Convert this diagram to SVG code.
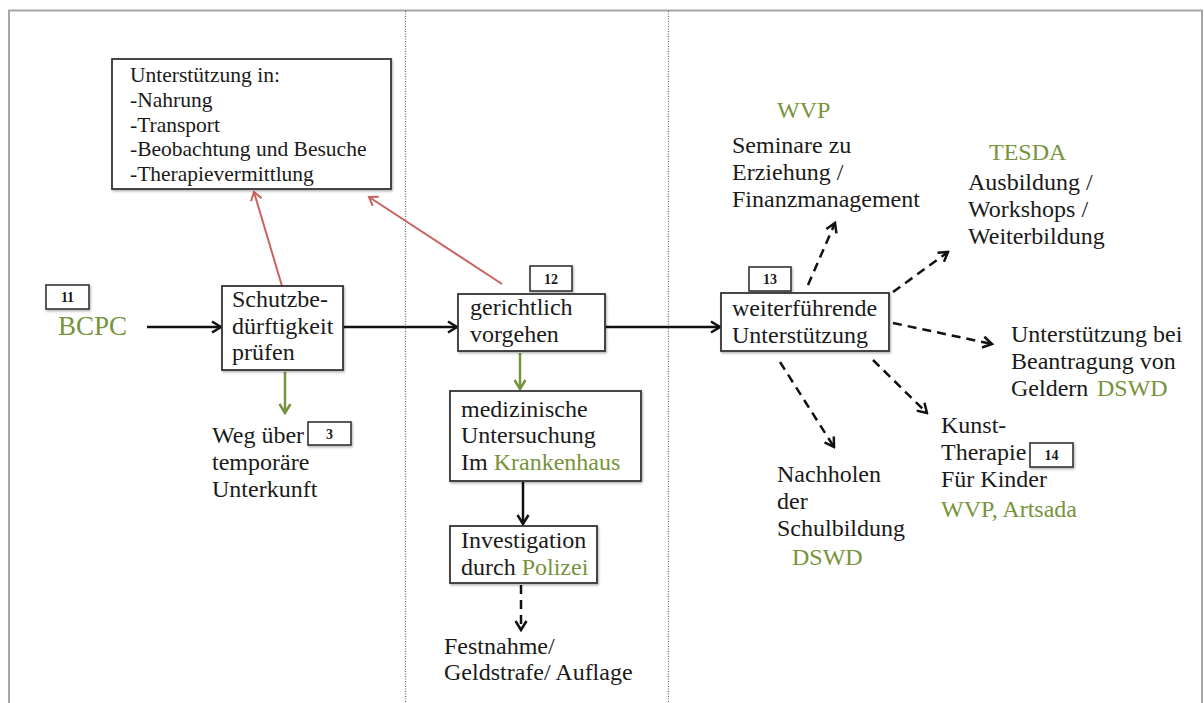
<svg xmlns="http://www.w3.org/2000/svg" width="1204" height="703" viewBox="0 0 1204 703">
<style>
text{font-family:"Liberation Serif","Times New Roman",serif;fill:#1a1a1a;font-size:24px}
.g{fill:#77933c}
.sm{font-size:21.5px}
.num{font-size:14px;font-weight:bold;text-anchor:middle}
.box{fill:#fff;stroke:#333;stroke-width:1.8;filter:url(#sh)}
.nb{fill:#fff;stroke:#333;stroke-width:1.6;filter:url(#sh)}
.c{fill:none;stroke:#111;stroke-width:2.5}
.d{stroke-dasharray:9 6}
.r{fill:none;stroke:#c9625c;stroke-width:2}
.gr{fill:none;stroke:#77933c;stroke-width:2.5}
.div{stroke:#666;stroke-width:1.2;stroke-dasharray:1 1.5}
</style>
<defs>
<filter id="sh" x="-10%" y="-10%" width="130%" height="130%"><feDropShadow dx="1" dy="1.5" stdDeviation="1" flood-color="#000" flood-opacity="0.3"/></filter>
<marker id="ab" markerUnits="userSpaceOnUse" markerWidth="14" markerHeight="14" viewBox="0 0 14 14" refX="12" refY="7" orient="auto"><path d="M3,1.5 L12,7 L3,12.5" fill="none" stroke="#111" stroke-width="2.5" stroke-dasharray="none"/></marker>
<marker id="ar" markerUnits="userSpaceOnUse" markerWidth="14" markerHeight="14" viewBox="0 0 14 14" refX="11" refY="7" orient="auto"><path d="M3,1.5 L11,7 L3,12.5" fill="none" stroke="#c9625c" stroke-width="2"/></marker>
<marker id="ag" markerUnits="userSpaceOnUse" markerWidth="14" markerHeight="14" viewBox="0 0 14 14" refX="12" refY="7" orient="auto"><path d="M3,1.5 L12,7 L3,12.5" fill="none" stroke="#77933c" stroke-width="2.5"/></marker>
</defs>
<rect width="1204" height="703" fill="#fff"/>
<path d="M9,703 V10.5 H1202 V703" fill="none" stroke="#a6a6a6" stroke-width="2"/>
<line class="div" x1="405.5" y1="11" x2="405.5" y2="703"/>
<line class="div" x1="668.5" y1="11" x2="668.5" y2="703"/>

<g id="connectors">
<path class="c" d="M147,327 H221" marker-end="url(#ab)"/>
<path class="c" d="M343,327 H457" marker-end="url(#ab)"/>
<path class="c" d="M605,327 H720" marker-end="url(#ab)"/>
<path class="r" d="M282,286 L254,192" marker-end="url(#ar)"/>
<path class="r" d="M502,284 L369,197" marker-end="url(#ar)"/>
<path class="gr" d="M285,372 V413" marker-end="url(#ag)"/>
<path class="gr" d="M520,353 V389" marker-end="url(#ag)"/>
<path class="c" d="M523,482 V524" marker-end="url(#ab)"/>
<path class="c d" d="M521,585 V630" marker-end="url(#ab)"/>
<path class="c d" d="M808,285 L835,223" marker-end="url(#ab)"/>
<path class="c d" d="M893,292 L948,252" marker-end="url(#ab)"/>
<path class="c d" d="M893,323 L992,344" marker-end="url(#ab)"/>
<path class="c d" d="M873,360 L927,413" marker-end="url(#ab)"/>
<path class="c d" d="M780,362 L834,447" marker-end="url(#ab)"/>
</g>

<g id="unterstuetzung-box">
<rect class="box" x="112" y="59" width="279" height="130"/>
<text class="sm" x="130" y="82">Unterstützung in:</text>
<text class="sm" x="130" y="107">-Nahrung</text>
<text class="sm" x="130" y="132">-Transport</text>
<text class="sm" x="130" y="156">-Beobachtung und Besuche</text>
<text class="sm" x="130" y="181">-Therapievermittlung</text>
</g>

<g id="bcpc">
<rect class="nb" x="46" y="285" width="43" height="24"/>
<text class="num" x="67.5" y="302">11</text>
<text class="g" x="58" y="335" style="font-size:27px">BCPC</text>
</g>

<g id="schutz">
<rect class="box" x="222" y="286" width="121" height="84"/>
<text x="232" y="307">Schutzbe-</text>
<text x="232" y="334">dürftigkeit</text>
<text x="232" y="360">prüfen</text>
</g>

<g id="weg">
<text x="212" y="443">Weg über</text>
<text x="212" y="470">temporäre</text>
<text x="212" y="497">Unterkunft</text>
<rect class="nb" x="308" y="422" width="43" height="23"/>
<text class="num" x="329.5" y="439">3</text>
</g>

<g id="gericht">
<rect class="nb" x="530" y="266" width="42" height="25"/>
<text class="num" x="551" y="284">12</text>
<rect class="box" x="458" y="294" width="147" height="57"/>
<text x="470" y="315">gerichtlich</text>
<text x="470" y="342">vorgehen</text>
</g>

<g id="medizin">
<rect class="box" x="450" y="391" width="191" height="90"/>
<text x="461" y="417">medizinische</text>
<text x="461" y="443">Untersuchung</text>
<text x="461" y="470">Im <tspan class="g">Krankenhaus</tspan></text>
</g>

<g id="investigation">
<rect class="box" x="450" y="526" width="147" height="57"/>
<text x="461" y="548">Investigation</text>
<text x="461" y="575">durch <tspan class="g">Polizei</tspan></text>
</g>

<g id="festnahme">
<text x="444" y="654">Festnahme/</text>
<text x="444" y="680">Geldstrafe/ Auflage</text>
</g>

<g id="weiter">
<rect class="nb" x="749" y="267" width="42" height="24"/>
<text class="num" x="770" y="284">13</text>
<rect class="box" x="721" y="293" width="168" height="58"/>
<text x="732" y="316">weiterführende</text>
<text x="732" y="343">Unterstützung</text>
</g>

<g id="seminare">
<text class="g" x="777" y="118">WVP</text>
<text x="732" y="153">Seminare zu</text>
<text x="732" y="180">Erziehung /</text>
<text x="732" y="207">Finanzmanagement</text>
</g>

<g id="ausbildung">
<text class="g" x="989" y="160">TESDA</text>
<text x="968" y="190">Ausbildung /</text>
<text x="968" y="217">Workshops /</text>
<text x="968" y="244">Weiterbildung</text>
</g>

<g id="gelder">
<text x="1011" y="342">Unterstützung bei</text>
<text x="1011" y="369">Beantragung von</text>
<text x="1011" y="396">Geldern <tspan class="g" x="1097">DSWD</tspan></text>
</g>

<g id="kunst">
<text x="941" y="433">Kunst-</text>
<text x="941" y="460">Therapie</text>
<rect class="nb" x="1030" y="443" width="43" height="24"/>
<text class="num" x="1051.5" y="460">14</text>
<text x="941" y="487">Für Kinder</text>
<text class="g" x="941" y="517">WVP, Artsada</text>
</g>

<g id="schule">
<text x="777" y="482">Nachholen</text>
<text x="777" y="509">der</text>
<text x="777" y="536">Schulbildung</text>
<text class="g" x="792" y="565">DSWD</text>
</g>
</svg>
